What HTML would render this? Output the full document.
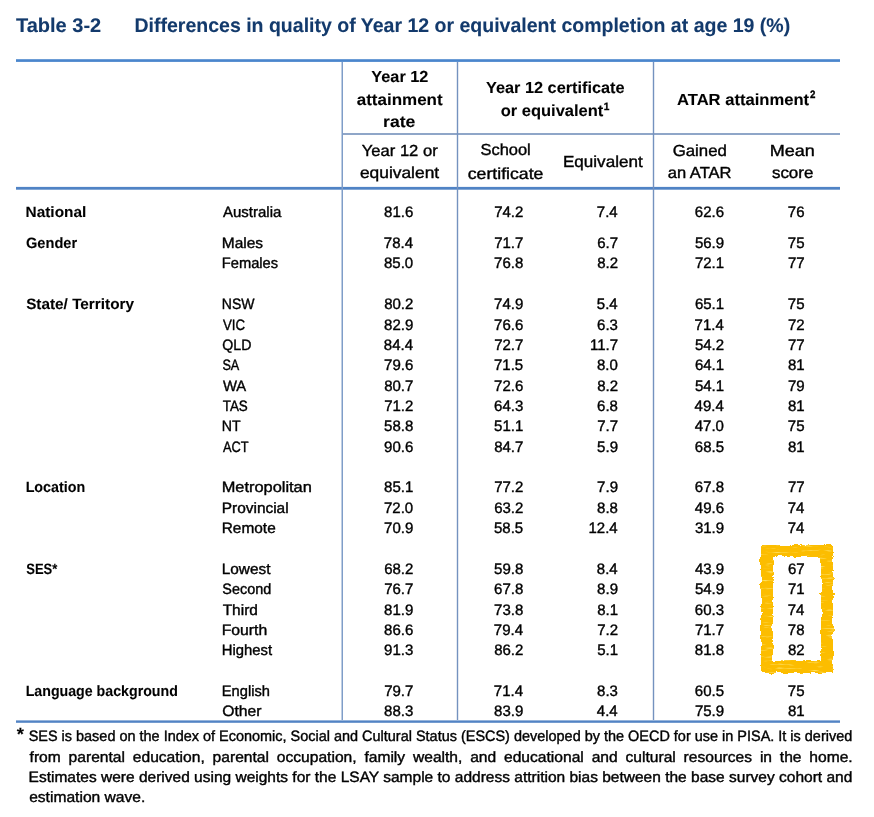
<!DOCTYPE html>
<html><head><meta charset="utf-8"><style>
html,body{margin:0;padding:0;background:#fff;}
svg{display:block;}
text{font-family:"Liberation Sans",sans-serif;stroke-width:0.4px;text-rendering:geometricPrecision;}
</style></head><body>
<svg width="874" height="817" viewBox="0 0 874 817">
<rect width="874" height="817" fill="#fff"/>

<rect x="16" y="59.2" width="824" height="2.7" fill="#4a86cd"/>
<rect x="342" y="133" width="498" height="2" fill="#8fa6c8"/>
<rect x="16" y="186.9" width="824" height="2.8" fill="#5083c5"/>
<rect x="16" y="720.4" width="824" height="2.4" fill="#5283c4"/>
<rect x="341.5" y="62" width="1.5" height="658" fill="#7f9dc8"/>
<rect x="456.8" y="62" width="1.4" height="658" fill="#7492bf"/>
<rect x="652.8" y="62" width="1.4" height="658" fill="#7492bf"/>


<filter id="crayon" x="-15%" y="-15%" width="130%" height="130%" color-interpolation-filters="sRGB">
<feTurbulence type="fractalNoise" baseFrequency="0.12" numOctaves="2" seed="7" result="wob"/>
<feDisplacementMap in="SourceGraphic" in2="wob" scale="5" xChannelSelector="R" yChannelSelector="G" result="d0"/>
<feTurbulence type="fractalNoise" baseFrequency="1.1" numOctaves="1" seed="4" result="fine"/>
<feDisplacementMap in="d0" in2="fine" scale="2.5" xChannelSelector="G" yChannelSelector="R" result="d1"/>
<feGaussianBlur in="d1" stdDeviation="0.35" result="d"/>
<feTurbulence type="fractalNoise" baseFrequency="0.08 0.5" numOctaves="2" seed="11" result="spk"/>
<feColorMatrix in="spk" type="matrix" values="0 0 0 0 1  0 0 0 0 0.9  0 0 0 0 0.45  3 0 0 0 -1.75" result="spkA"/>
<feComposite in="spkA" in2="d" operator="in" result="spkIn"/>
<feMerge><feMergeNode in="d"/><feMergeNode in="spkIn"/></feMerge>
</filter>
<rect x="767" y="551" width="60" height="116" fill="none" stroke="#fcbd00" stroke-width="12" filter="url(#crayon)"/>

<g fill="#000" stroke="#000" opacity="0.999">
<text transform="translate(15.97 31.70) scale(1.0113 1)" font-size="19.80" font-weight="bold" style="stroke-width:0.1px" fill="#133a6c" stroke="#133a6c">Table 3-2</text>
<text transform="translate(134.49 31.70) scale(0.9864 1)" font-size="19.80" font-weight="bold" style="stroke-width:0.1px" fill="#133a6c" stroke="#133a6c">Differences in quality of Year 12 or equivalent completion at age 19 (%)</text>
<text transform="translate(371.31 81.60) scale(1.0176 1)" font-size="16.00" font-weight="bold" style="stroke-width:0.1px">Year 12</text>
<text transform="translate(356.70 104.60) scale(1.0620 1)" font-size="16.00" font-weight="bold" style="stroke-width:0.1px">attainment</text>
<text transform="translate(383.04 126.50) scale(1.0997 1)" font-size="16.00" font-weight="bold" style="stroke-width:0.1px">rate</text>
<text transform="translate(486.01 92.60) scale(1.0180 1)" font-size="16.00" font-weight="bold" style="stroke-width:0.1px">Year 12 certificate</text>
<text transform="translate(500.66 115.60) scale(1.0309 1)" font-size="16.00" font-weight="bold" style="stroke-width:0.1px">or equivalent</text>
<text transform="translate(676.98 104.50) scale(1.0370 1)" font-size="16.00" font-weight="bold" style="stroke-width:0.1px">ATAR attainment</text>
<text transform="translate(603.66 109.80) scale(0.9440 1)" font-size="10.70" font-weight="bold" style="stroke-width:0.1px;stroke-width:0.35px">1</text>
<text transform="translate(809.96 97.70) scale(0.9124 1)" font-size="10.70" font-weight="bold" style="stroke-width:0.1px;stroke-width:0.35px">2</text>
<text transform="translate(361.82 155.70) scale(1.0356 1)" font-size="16.00">Year 12 or</text>
<text transform="translate(359.96 178.20) scale(1.0850 1)" font-size="16.00">equivalent</text>
<text transform="translate(480.45 155.30) scale(1.0273 1)" font-size="16.00">School</text>
<text transform="translate(467.75 178.50) scale(1.1049 1)" font-size="16.00">certificate</text>
<text transform="translate(563.00 166.90) scale(1.0655 1)" font-size="16.00">Equivalent</text>
<text transform="translate(672.66 155.50) scale(1.0494 1)" font-size="16.00">Gained</text>
<text transform="translate(667.80 178.30) scale(1.0325 1)" font-size="16.00">an ATAR</text>
<text transform="translate(769.82 155.50) scale(1.1257 1)" font-size="16.00">Mean</text>
<text transform="translate(771.92 178.30) scale(1.0587 1)" font-size="16.00">score</text>
<text transform="translate(25.57 216.70) scale(1.0260 1)" font-size="15.00" font-weight="bold" style="stroke-width:0.1px">National</text>
<text transform="translate(222.96 216.70) scale(1.0012 1)" font-size="15.00">Australia</text>
<text transform="translate(384.03 216.90) scale(0.9880 1)" font-size="15.20">81.6</text>
<text transform="translate(494.13 216.90) scale(0.9880 1)" font-size="15.20">74.2</text>
<text transform="translate(596.85 216.90) scale(0.9880 1)" font-size="15.20">7.4</text>
<text transform="translate(694.83 216.90) scale(0.9880 1)" font-size="15.20">62.6</text>
<text transform="translate(787.87 216.90) scale(0.9880 1)" font-size="15.20">76</text>
<text transform="translate(26.00 247.90) scale(0.9732 1)" font-size="15.00" font-weight="bold" style="stroke-width:0.1px">Gender</text>
<text transform="translate(221.73 247.90) scale(1.0330 1)" font-size="15.00">Males</text>
<text transform="translate(383.81 248.10) scale(0.9880 1)" font-size="15.20">78.4</text>
<text transform="translate(494.13 248.10) scale(0.9880 1)" font-size="15.20">71.7</text>
<text transform="translate(597.16 248.10) scale(0.9880 1)" font-size="15.20">6.7</text>
<text transform="translate(694.88 248.10) scale(0.9880 1)" font-size="15.20">56.9</text>
<text transform="translate(787.84 248.10) scale(0.9880 1)" font-size="15.20">75</text>
<text transform="translate(221.79 268.20) scale(0.9793 1)" font-size="15.00">Females</text>
<text transform="translate(383.96 268.40) scale(0.9880 1)" font-size="15.20">85.0</text>
<text transform="translate(494.03 268.40) scale(0.9880 1)" font-size="15.20">76.8</text>
<text transform="translate(597.16 268.40) scale(0.9880 1)" font-size="15.20">8.2</text>
<text transform="translate(694.91 268.40) scale(0.9880 1)" font-size="15.20">72.1</text>
<text transform="translate(787.97 268.40) scale(0.9880 1)" font-size="15.20">77</text>
<text transform="translate(26.15 309.10) scale(1.0214 1)" font-size="15.00" font-weight="bold" style="stroke-width:0.1px">State/ Territory</text>
<text transform="translate(221.85 309.10) scale(0.9341 1)" font-size="15.00">NSW</text>
<text transform="translate(384.13 309.30) scale(0.9880 1)" font-size="15.20">80.2</text>
<text transform="translate(494.08 309.30) scale(0.9880 1)" font-size="15.20">74.9</text>
<text transform="translate(596.85 309.30) scale(0.9880 1)" font-size="15.20">5.4</text>
<text transform="translate(694.91 309.30) scale(0.9880 1)" font-size="15.20">65.1</text>
<text transform="translate(787.84 309.30) scale(0.9880 1)" font-size="15.20">75</text>
<text transform="translate(222.94 329.50) scale(0.8827 1)" font-size="15.00">VIC</text>
<text transform="translate(384.08 329.70) scale(0.9880 1)" font-size="15.20">82.9</text>
<text transform="translate(494.03 329.70) scale(0.9880 1)" font-size="15.20">76.6</text>
<text transform="translate(597.07 329.70) scale(0.9880 1)" font-size="15.20">6.3</text>
<text transform="translate(694.61 329.70) scale(0.9880 1)" font-size="15.20">71.4</text>
<text transform="translate(787.97 329.70) scale(0.9880 1)" font-size="15.20">72</text>
<text transform="translate(222.33 349.90) scale(0.9447 1)" font-size="15.00">QLD</text>
<text transform="translate(383.81 350.10) scale(0.9880 1)" font-size="15.20">84.4</text>
<text transform="translate(494.13 350.10) scale(0.9880 1)" font-size="15.20">72.7</text>
<text transform="translate(589.96 350.10) scale(0.9880 1)" font-size="15.20">11.7</text>
<text transform="translate(694.93 350.10) scale(0.9880 1)" font-size="15.20">54.2</text>
<text transform="translate(787.97 350.10) scale(0.9880 1)" font-size="15.20">77</text>
<text transform="translate(222.42 370.10) scale(0.8448 1)" font-size="15.00">SA</text>
<text transform="translate(384.03 370.30) scale(0.9880 1)" font-size="15.20">79.6</text>
<text transform="translate(494.00 370.30) scale(0.9880 1)" font-size="15.20">71.5</text>
<text transform="translate(596.99 370.30) scale(0.9880 1)" font-size="15.20">8.0</text>
<text transform="translate(694.91 370.30) scale(0.9880 1)" font-size="15.20">64.1</text>
<text transform="translate(787.95 370.30) scale(0.9880 1)" font-size="15.20">81</text>
<text transform="translate(222.93 390.50) scale(0.9869 1)" font-size="15.00">WA</text>
<text transform="translate(384.13 390.70) scale(0.9880 1)" font-size="15.20">80.7</text>
<text transform="translate(494.03 390.70) scale(0.9880 1)" font-size="15.20">72.6</text>
<text transform="translate(597.16 390.70) scale(0.9880 1)" font-size="15.20">8.2</text>
<text transform="translate(694.91 390.70) scale(0.9880 1)" font-size="15.20">54.1</text>
<text transform="translate(787.92 390.70) scale(0.9880 1)" font-size="15.20">79</text>
<text transform="translate(222.70 410.70) scale(0.8958 1)" font-size="15.00">TAS</text>
<text transform="translate(384.13 410.90) scale(0.9880 1)" font-size="15.20">71.2</text>
<text transform="translate(494.03 410.90) scale(0.9880 1)" font-size="15.20">64.3</text>
<text transform="translate(597.06 410.90) scale(0.9880 1)" font-size="15.20">6.8</text>
<text transform="translate(694.61 410.90) scale(0.9880 1)" font-size="15.20">49.4</text>
<text transform="translate(787.95 410.90) scale(0.9880 1)" font-size="15.20">81</text>
<text transform="translate(221.84 431.10) scale(0.9443 1)" font-size="15.00">NT</text>
<text transform="translate(384.03 431.30) scale(0.9880 1)" font-size="15.20">58.8</text>
<text transform="translate(494.11 431.30) scale(0.9880 1)" font-size="15.20">51.1</text>
<text transform="translate(597.16 431.30) scale(0.9880 1)" font-size="15.20">7.7</text>
<text transform="translate(694.76 431.30) scale(0.9880 1)" font-size="15.20">47.0</text>
<text transform="translate(787.84 431.30) scale(0.9880 1)" font-size="15.20">75</text>
<text transform="translate(222.97 451.50) scale(0.8538 1)" font-size="15.00">ACT</text>
<text transform="translate(384.03 451.70) scale(0.9880 1)" font-size="15.20">90.6</text>
<text transform="translate(494.13 451.70) scale(0.9880 1)" font-size="15.20">84.7</text>
<text transform="translate(597.12 451.70) scale(0.9880 1)" font-size="15.20">5.9</text>
<text transform="translate(694.80 451.70) scale(0.9880 1)" font-size="15.20">68.5</text>
<text transform="translate(787.95 451.70) scale(0.9880 1)" font-size="15.20">81</text>
<text transform="translate(25.64 492.10) scale(0.9529 1)" font-size="15.00" font-weight="bold" style="stroke-width:0.1px">Location</text>
<text transform="translate(221.66 492.10) scale(1.0927 1)" font-size="15.00">Metropolitan</text>
<text transform="translate(384.11 492.30) scale(0.9880 1)" font-size="15.20">85.1</text>
<text transform="translate(494.13 492.30) scale(0.9880 1)" font-size="15.20">77.2</text>
<text transform="translate(597.12 492.30) scale(0.9880 1)" font-size="15.20">7.9</text>
<text transform="translate(694.83 492.30) scale(0.9880 1)" font-size="15.20">67.8</text>
<text transform="translate(787.97 492.30) scale(0.9880 1)" font-size="15.20">77</text>
<text transform="translate(221.73 512.50) scale(1.0289 1)" font-size="15.00">Provincial</text>
<text transform="translate(383.96 512.70) scale(0.9880 1)" font-size="15.20">72.0</text>
<text transform="translate(494.13 512.70) scale(0.9880 1)" font-size="15.20">63.2</text>
<text transform="translate(597.06 512.70) scale(0.9880 1)" font-size="15.20">8.8</text>
<text transform="translate(694.83 512.70) scale(0.9880 1)" font-size="15.20">49.6</text>
<text transform="translate(787.65 512.70) scale(0.9880 1)" font-size="15.20">74</text>
<text transform="translate(221.74 532.90) scale(1.0273 1)" font-size="15.00">Remote</text>
<text transform="translate(384.08 533.10) scale(0.9880 1)" font-size="15.20">70.9</text>
<text transform="translate(494.00 533.10) scale(0.9880 1)" font-size="15.20">58.5</text>
<text transform="translate(588.51 533.10) scale(0.9880 1)" font-size="15.20">12.4</text>
<text transform="translate(694.88 533.10) scale(0.9880 1)" font-size="15.20">31.9</text>
<text transform="translate(787.65 533.10) scale(0.9880 1)" font-size="15.20">74</text>
<text transform="translate(26.22 573.80) scale(0.8678 1)" font-size="15.00" font-weight="bold" style="stroke-width:0.1px">SES*</text>
<text transform="translate(221.74 573.80) scale(1.0243 1)" font-size="15.00">Lowest</text>
<text transform="translate(384.13 574.00) scale(0.9880 1)" font-size="15.20">68.2</text>
<text transform="translate(494.03 574.00) scale(0.9880 1)" font-size="15.20">59.8</text>
<text transform="translate(596.85 574.00) scale(0.9880 1)" font-size="15.20">8.4</text>
<text transform="translate(694.88 574.00) scale(0.9880 1)" font-size="15.20">43.9</text>
<text transform="translate(787.97 574.00) scale(0.9880 1)" font-size="15.20">67</text>
<text transform="translate(222.34 594.10) scale(0.9611 1)" font-size="15.00">Second</text>
<text transform="translate(384.13 594.30) scale(0.9880 1)" font-size="15.20">76.7</text>
<text transform="translate(494.03 594.30) scale(0.9880 1)" font-size="15.20">67.8</text>
<text transform="translate(597.12 594.30) scale(0.9880 1)" font-size="15.20">8.9</text>
<text transform="translate(694.88 594.30) scale(0.9880 1)" font-size="15.20">54.9</text>
<text transform="translate(787.95 594.30) scale(0.9880 1)" font-size="15.20">71</text>
<text transform="translate(222.65 614.50) scale(1.0312 1)" font-size="15.00">Third</text>
<text transform="translate(384.08 614.70) scale(0.9880 1)" font-size="15.20">81.9</text>
<text transform="translate(494.03 614.70) scale(0.9880 1)" font-size="15.20">73.8</text>
<text transform="translate(597.14 614.70) scale(0.9880 1)" font-size="15.20">8.1</text>
<text transform="translate(694.83 614.70) scale(0.9880 1)" font-size="15.20">60.3</text>
<text transform="translate(787.65 614.70) scale(0.9880 1)" font-size="15.20">74</text>
<text transform="translate(221.71 634.80) scale(1.0495 1)" font-size="15.00">Fourth</text>
<text transform="translate(384.03 635.00) scale(0.9880 1)" font-size="15.20">86.6</text>
<text transform="translate(493.81 635.00) scale(0.9880 1)" font-size="15.20">79.4</text>
<text transform="translate(597.16 635.00) scale(0.9880 1)" font-size="15.20">7.2</text>
<text transform="translate(694.93 635.00) scale(0.9880 1)" font-size="15.20">71.7</text>
<text transform="translate(787.87 635.00) scale(0.9880 1)" font-size="15.20">78</text>
<text transform="translate(221.78 655.10) scale(0.9896 1)" font-size="15.00">Highest</text>
<text transform="translate(384.03 655.30) scale(0.9880 1)" font-size="15.20">91.3</text>
<text transform="translate(494.13 655.30) scale(0.9880 1)" font-size="15.20">86.2</text>
<text transform="translate(597.14 655.30) scale(0.9880 1)" font-size="15.20">5.1</text>
<text transform="translate(694.83 655.30) scale(0.9880 1)" font-size="15.20">81.8</text>
<text transform="translate(787.97 655.30) scale(0.9880 1)" font-size="15.20">82</text>
<text transform="translate(25.65 695.60) scale(0.9461 1)" font-size="15.00" font-weight="bold" style="stroke-width:0.1px">Language background</text>
<text transform="translate(221.80 695.60) scale(0.9771 1)" font-size="15.00">English</text>
<text transform="translate(384.13 695.80) scale(0.9880 1)" font-size="15.20">79.7</text>
<text transform="translate(493.81 695.80) scale(0.9880 1)" font-size="15.20">71.4</text>
<text transform="translate(597.07 695.80) scale(0.9880 1)" font-size="15.20">8.3</text>
<text transform="translate(694.80 695.80) scale(0.9880 1)" font-size="15.20">60.5</text>
<text transform="translate(787.84 695.80) scale(0.9880 1)" font-size="15.20">75</text>
<text transform="translate(222.25 715.90) scale(1.0479 1)" font-size="15.00">Other</text>
<text transform="translate(384.03 716.10) scale(0.9880 1)" font-size="15.20">88.3</text>
<text transform="translate(494.08 716.10) scale(0.9880 1)" font-size="15.20">83.9</text>
<text transform="translate(596.85 716.10) scale(0.9880 1)" font-size="15.20">4.4</text>
<text transform="translate(694.88 716.10) scale(0.9880 1)" font-size="15.20">75.9</text>
<text transform="translate(787.95 716.10) scale(0.9880 1)" font-size="15.20">81</text>
<text transform="translate(16.84 740.20) scale(1.0378 1)" font-size="17.80" font-weight="bold" style="stroke-width:0.1px">*</text>
<text transform="translate(28.64 740.90) scale(0.9637 1)" font-size="15.00">SES is based on the Index of Economic, Social and Cultural Status (ESCS) developed by the OECD for use in PISA. It is derived</text>
<text transform="translate(29.58 761.90) scale(1.0400 1)" font-size="15.00">from</text>
<text transform="translate(68.59 761.90) scale(1.0400 1)" font-size="15.00">parental</text>
<text transform="translate(132.78 761.90) scale(1.0400 1)" font-size="15.00">education,</text>
<text transform="translate(212.59 761.90) scale(1.0400 1)" font-size="15.00">parental</text>
<text transform="translate(276.78 761.90) scale(1.0400 1)" font-size="15.00">occupation,</text>
<text transform="translate(364.39 761.90) scale(1.0400 1)" font-size="15.00">family</text>
<text transform="translate(412.94 761.90) scale(1.0400 1)" font-size="15.00">wealth,</text>
<text transform="translate(470.18 761.90) scale(1.0400 1)" font-size="15.00">and</text>
<text transform="translate(504.02 761.90) scale(1.0400 1)" font-size="15.00">educational</text>
<text transform="translate(591.64 761.90) scale(1.0400 1)" font-size="15.00">and</text>
<text transform="translate(625.48 761.90) scale(1.0400 1)" font-size="15.00">cultural</text>
<text transform="translate(683.58 761.90) scale(1.0400 1)" font-size="15.00">resources</text>
<text transform="translate(759.89 761.90) scale(1.0400 1)" font-size="15.00">in</text>
<text transform="translate(779.85 761.90) scale(1.0400 1)" font-size="15.00">the</text>
<text transform="translate(809.35 761.90) scale(1.0400 1)" font-size="15.00">home.</text>
<text transform="translate(28.53 781.90) scale(1.0342 1)" font-size="15.00">Estimates were derived using weights for the LSAY sample to address attrition bias between the base survey cohort and</text>
<text transform="translate(29.14 802.40) scale(1.0400 1)" font-size="15.00">estimation wave.</text>
</g>
</svg>
</body></html>
